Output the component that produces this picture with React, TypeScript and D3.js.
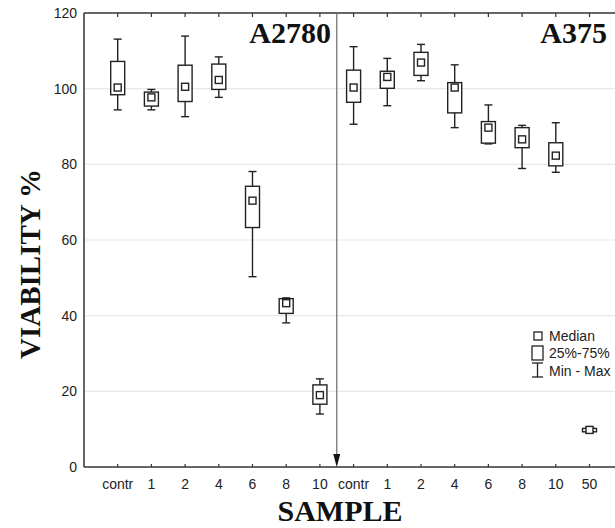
import React from "react";
import * as d3 from "d3";

const categories = ["contr", "1", "2", "4", "6", "8", "10", "contr", "1", "2", "4", "6", "8", "10", "50"];
const groups = ["A2780", "A2780", "A2780", "A2780", "A2780", "A2780", "A2780", "A375", "A375", "A375", "A375", "A375", "A375", "A375", "A375"];
const maxVals = [113.1, 99.8, 113.9, 108.4, 78.1, 44.7, 23.3, 111.1, 108.0, 111.7, 106.3, 95.7, 90.3, 91.0, 10.5];
const q3Vals = [107.2, 99.1, 106.2, 106.5, 74.2, 44.5, 21.7, 104.9, 104.6, 109.6, 101.6, 91.3, 89.7, 85.7, 10.2];
const medianVals = [100.3, 97.7, 100.5, 102.3, 70.4, 43.3, 19.0, 100.3, 103.1, 106.9, 100.3, 89.7, 86.6, 82.3, 9.8];
const q1Vals = [98.4, 95.4, 96.6, 99.8, 63.3, 40.6, 16.6, 96.4, 100.1, 103.5, 93.6, 85.6, 84.4, 79.6, 9.3];
const minVals = [94.4, 94.4, 92.6, 97.7, 50.3, 38.1, 14.0, 90.6, 95.5, 102.1, 89.7, 85.4, 78.9, 77.9, 9.0];
const yTicks = [0, 20, 40, 60, 80, 100, 120];
const gridTicks = [20, 40, 60, 80, 100];
const panelLabels = ["A2780", "A375"];
const legendItems = ["Median", "25%-75%", "Min - Max"];

export default function App() {
  const W = 615, H = 528;
  const left = 84, top = 13, bottom = 467;
  const x = d3.scaleLinear().domain([0, categories.length + 1]).range([left, left + 33.7 * (categories.length + 1)]);
  const y = d3.scaleLinear().domain([0, 120]).range([bottom, top]);
  const boxW = 14, medW = 7, capW = 8;
  const sans = "'Liberation Sans', Arial, sans-serif";
  const serif = "'Liberation Serif', 'Times New Roman', serif";
  const ink = "#222";
  const divX = x(7.5);
  const idx = d3.range(categories.length);

  return (
    <svg width={W} height={H} style={{ position: "absolute", left: 0, top: 0, background: "#fff" }}>
      <rect x={0} y={0} width={W} height={H} fill="#fff" />
      {gridTicks.map((t) => (
        <line key={"g" + t} x1={left} x2={W} y1={y(t)} y2={y(t)} stroke="#e8e8e8" strokeWidth={1.2} />
      ))}
      {/* axes */}
      <line x1={left} x2={W} y1={bottom} y2={bottom} stroke="#333" strokeWidth={1.5} />
      <line x1={left} x2={W} y1={top} y2={top} stroke="#333" strokeWidth={1.5} />
      <line x1={left} x2={left} y1={top} y2={bottom} stroke="#333" strokeWidth={1.5} />
      {idx.map((i) => (
        <g key={"t" + i}>
          <line x1={x(i + 1)} x2={x(i + 1)} y1={bottom} y2={bottom - 3} stroke="#333" strokeWidth={1.2} />
          <line x1={x(i + 1)} x2={x(i + 1)} y1={top} y2={top + 4} stroke="#333" strokeWidth={1.2} />
          <text x={x(i + 1)} y={489} textAnchor="middle" fontFamily={sans} fontSize={14} fill={ink}>
            {categories[i]}
          </text>
        </g>
      ))}
      {yTicks.map((t) => (
        <text key={"y" + t} x={77} y={y(t)} dy="0.35em" textAnchor="end" fontFamily={sans} fontSize={14} fill={ink}>
          {t}
        </text>
      ))}
      {/* divider arrow */}
      <line x1={divX} x2={divX} y1={top} y2={bottom - 8} stroke="#777" strokeWidth={1.3} />
      <path d={`M${divX - 3.5},${bottom - 13} L${divX + 3.5},${bottom - 13} L${divX},${bottom} Z`} fill="#111" />
      {/* boxes */}
      {idx.map((i) => {
        const cx = x(i + 1);
        return (
          <g key={"b" + i} stroke={ink} strokeWidth={1.4} fill="none" data-group={groups[i]}>
            <line x1={cx} x2={cx} y1={y(maxVals[i])} y2={y(q3Vals[i])} />
            <line x1={cx} x2={cx} y1={y(q1Vals[i])} y2={y(minVals[i])} />
            <line x1={cx - capW / 2} x2={cx + capW / 2} y1={y(maxVals[i])} y2={y(maxVals[i])} />
            <line x1={cx - capW / 2} x2={cx + capW / 2} y1={y(minVals[i])} y2={y(minVals[i])} />
            <rect x={cx - boxW / 2} y={y(q3Vals[i])} width={boxW} height={y(q1Vals[i]) - y(q3Vals[i])} fill="#fff" />
            <rect x={cx - medW / 2} y={y(medianVals[i]) - medW / 2} width={medW} height={medW} fill="#fff" />
          </g>
        );
      })}
      {/* panel labels */}
      <text x={331} y={42.5} textAnchor="end" fontFamily={serif} fontWeight="bold" fontSize={30} fill="#111">
        {panelLabels[0]}
      </text>
      <text x={607} y={42.5} textAnchor="end" fontFamily={serif} fontWeight="bold" fontSize={30} fill="#111">
        {panelLabels[1]}
      </text>
      {/* legend */}
      <g stroke={ink} strokeWidth={1.3} fill="#fff">
        <rect x={534} y={332} width={8} height={8} />
        <rect x={532} y={346} width={11} height={14} />
        <line x1={537.5} x2={537.5} y1={363} y2={377} />
        <line x1={532} x2={543} y1={363} y2={363} />
        <line x1={532} x2={543} y1={377} y2={377} />
      </g>
      {legendItems.map((t, i) => (
        <text key={"l" + i} x={549} y={336 + i * 17.3} dy="0.36em" fontFamily={sans} fontSize={14} fill={ink}>
          {t}
        </text>
      ))}
      {/* axis titles */}
      <text x={340} y={521} textAnchor="middle" fontFamily={serif} fontWeight="bold" fontSize={30} fill="#111">
        SAMPLE
      </text>
      <text
        transform={`translate(40,264) rotate(-90)`}
        textAnchor="middle"
        fontFamily={serif}
        fontWeight="bold"
        fontSize={29}
        fill="#111"
      >
        VIABILITY %
      </text>
    </svg>
  );
}
